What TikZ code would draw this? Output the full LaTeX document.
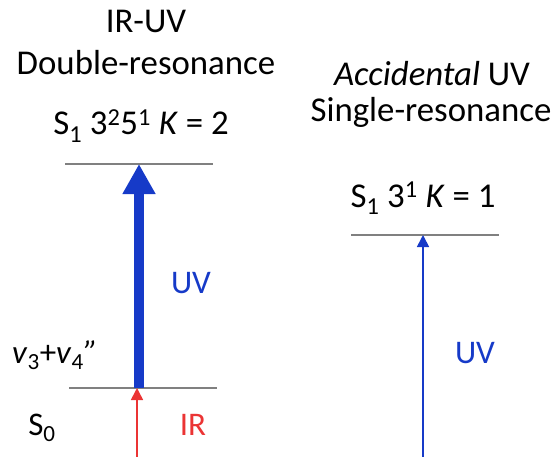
\documentclass[tikz,border=0pt]{standalone}
\usepackage{fontspec}
\setmainfont{Carlito}
\usetikzlibrary{arrows.meta}
\definecolor{uvblue}{RGB}{22,58,200}
\definecolor{irred}{RGB}{235,52,52}
\definecolor{lvlgray}{RGB}{128,128,128}
\tikzset{
  lbl/.style={anchor=base, inner sep=0pt, font=\fontsize{33}{40}\selectfont},
  head/.style={lbl, font=\fontsize{34.8}{42}\selectfont},
  level/.style={draw=lvlgray, line width=1.1pt},
  bigarrow/.style={uvblue, line width=10pt, -{Triangle[width=31pt,length=30pt]}},
  thinuv/.style={uvblue, line width=1.6pt, -{Triangle[width=12pt,length=12pt]}},
  thinir/.style={irred, line width=1.6pt, -{Triangle[width=12pt,length=12pt]}},
}
\begin{document}
\begin{tikzpicture}[x=1pt,y=-1pt]
\useasboundingbox (0,0) rectangle (556,457);
% level lines
\coordinate (Lt1) at (65,164);  \coordinate (Lt2) at (213,164);
\coordinate (Lb1) at (69,388);  \coordinate (Lb2) at (217,388);
\coordinate (Rt1) at (351,235); \coordinate (Rt2) at (499,235);
\draw[level] (Lt1) -- (Lt2);
\draw[level] (Lb1) -- (Lb2);
\draw[level] (Rt1) -- (Rt2);
% arrows
\coordinate (uvS) at (139,388); \coordinate (uvE) at (139,164);
\coordinate (irS) at (137,457); \coordinate (irE) at (137,388);
\coordinate (ruS) at (423,457); \coordinate (ruE) at (423,235);
\draw[bigarrow] (uvS) -- (uvE);
\draw[thinir] (irS) -- (irE);
\draw[thinuv] (ruS) -- (ruE);
% texts
\node[head] (t1) at (146,33) {IR-UV};
\node[head] (t2) at (146,75) {Double-resonance};
\node[head] (t3) at (141,135) {S\textsubscript{1} 3\textsuperscript{2}5\textsuperscript{1} \textit{K} = 2};
\node[head] (t4) at (432,86) {\textit{Accidental} UV};
\node[head] (t5) at (431,122) {Single-resonance};
\node[head] (t6) at (423,207) {S\textsubscript{1} 3\textsuperscript{1} \textit{K} = 1};
\node[lbl, text=uvblue] (uv1) at (191,293) {UV};
\node[lbl, text=uvblue] (uv2) at (475,363) {UV};
\node[lbl, anchor=base west] (vib) at (12,363) {\textit{v}\textsubscript{3}+\textit{v}\textsubscript{4}\textit{”}};
\node[lbl] (s0) at (42,435) {S\textsubscript{0}};
\node[lbl, text=irred] (ir) at (193,435) {IR};
\end{tikzpicture}
\end{document}
